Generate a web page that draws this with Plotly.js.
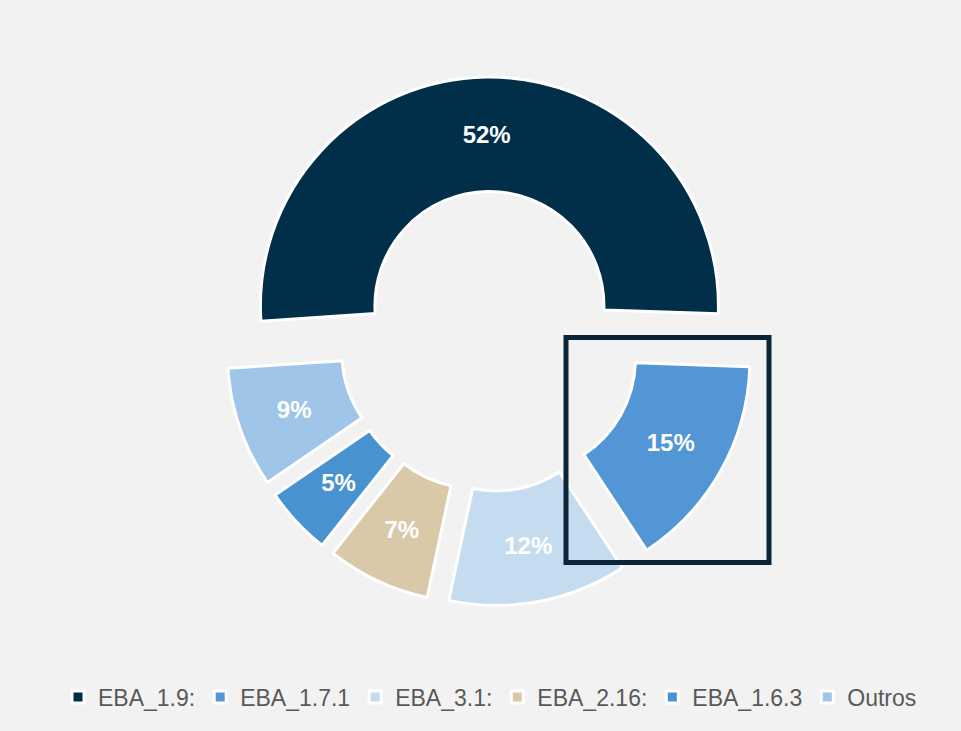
<!DOCTYPE html>
<html>
<head>
<meta charset="utf-8">
<script src="https://cdn.plot.ly/plotly-3.0.1.min.js"></script>
<style>
  html, body { margin: 0; padding: 0; background: #f2f2f2; }
  #chart { width: 961px; height: 731px; }
</style>
</head>
<body>
<div id="chart"></div>
<script>
// Data
const labels = ['EBA_1.9:', 'EBA_1.7.1', 'EBA_3.1:', 'EBA_2.16:', 'EBA_1.6.3', 'Outros'];
const values = [51.6, 15.2, 12.6, 7.3, 4.8, 8.5];
const valueLabels = ['52%', '15%', '12%', '7%', '5%', '9%'];
const colors = ['#012E49', '#5296D5', '#C5DCF0', '#D9C9A9', '#4893CF', '#9FC5E8'];

// Layout constants
const W = 961, H = 731;
const M = { l: 40, r: 21, t: 77, b: 125 };
const pw = W - M.l - M.r, ph = H - M.t - M.b;
const HOLE = 0.5, PULL = 0.155, ROT = -93.8;
const FONT = 'Liberation Sans, Arial, sans-serif';
function px(x) { return (x - M.l) / pw; }
function py(y) { return 1 - (y - M.t) / ph; }

const total = values.reduce((a, b) => a + b, 0);
const R = Math.min(pw, ph) / 2 / (1 + PULL);
const midRing = R * (1 + HOLE) / 2;
const ringHalf = (1 - HOLE) / 2;
function inscribed(v) { return 1 / (1 + 1 / Math.sin(Math.PI * v / total)); }

// slices whose label plotly would push outward get their label from a transparent overlay pie
const narrow = values.map(v => inscribed(v) < ringHalf);

const textFont = { family: FONT, size: 24, color: '#ffffff', weight: 'bold' };

const traces = [{
  type: 'pie',
  labels: labels,
  values: values,
  sort: false,
  direction: 'clockwise',
  rotation: ROT,
  hole: HOLE,
  pull: values.map(() => PULL),
  marker: { colors: colors, line: { color: '#ffffff', width: 3 } },
  text: valueLabels.map((t, i) => narrow[i] ? '' : t),
  textinfo: 'text',
  textposition: 'inside',
  insidetextorientation: 'horizontal',
  insidetextfont: textFont,
  hoverinfo: 'label+percent'
}];

values.forEach((v, i) => {
  if (!narrow[i]) return;
  const r2 = midRing / (1 - inscribed(v));
  const hs = r2 + PULL * R;
  traces.push({
    type: 'pie',
    labels: labels,
    values: values,
    sort: false,
    direction: 'clockwise',
    rotation: ROT,
    hole: 0,
    pull: values.map(() => PULL * R / r2),
    domain: { x: [0.5 - hs / pw, 0.5 + hs / pw], y: [0.5 - hs / ph, 0.5 + hs / ph] },
    marker: { colors: values.map(() => 'rgba(0,0,0,0)'), line: { width: 0 } },
    text: valueLabels.map((t, j) => j === i ? t : ''),
    textinfo: 'text',
    textposition: 'inside',
    insidetextorientation: 'horizontal',
    insidetextfont: textFont,
    showlegend: false,
    hoverinfo: 'skip'
  });
});

const layout = {
  width: W, height: H,
  paper_bgcolor: '#f2f2f2',
  plot_bgcolor: '#f2f2f2',
  margin: { l: M.l, r: M.r, t: M.t, b: M.b, autoexpand: false },
  showlegend: true,
  legend: {
    orientation: 'h',
    x: 0.5, xanchor: 'center',
    yref: 'container', y: 1 - 697 / H, yanchor: 'middle',
    font: { family: FONT, size: 23, color: '#595959' },
    traceorder: 'normal',
    bgcolor: 'rgba(0,0,0,0)'
  },
  shapes: [{
    type: 'rect', xref: 'paper', yref: 'paper',
    x0: px(566), x1: px(769), y0: py(562.5), y1: py(337.5),
    line: { color: '#0B2538', width: 5 },
    fillcolor: 'rgba(0,0,0,0)',
    layer: 'above'
  }]
};

Plotly.newPlot('chart', traces, layout, { displayModeBar: false, staticPlot: true });
</script>
</body>
</html>
